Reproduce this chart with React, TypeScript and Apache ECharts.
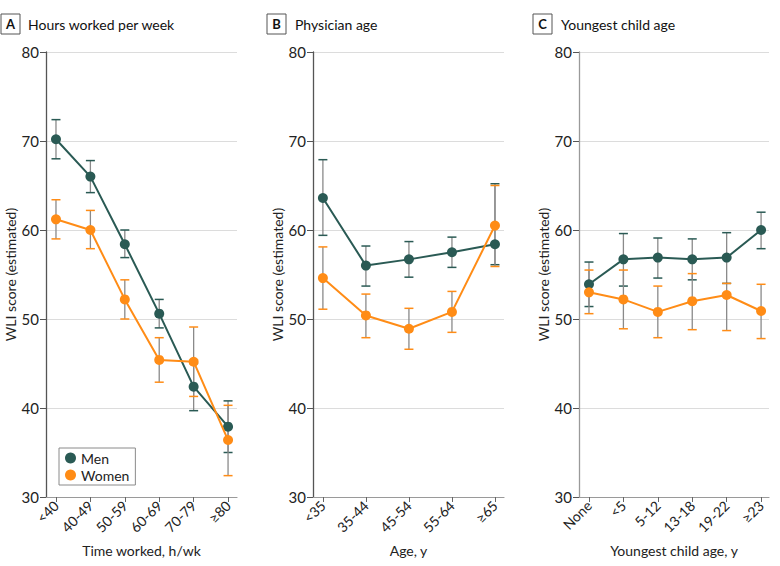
import React, { useEffect, useRef } from "react";
import * as echarts from "echarts";

const hoursCats = ["<40", "40-49", "50-59", "60-69", "70-79", "≥80"];
const hoursMen = [70.2, 66.0, 58.4, 50.6, 42.4, 37.9];
const hoursMenLow = [68.0, 64.2, 56.9, 49.0, 39.7, 35.0];
const hoursMenHigh = [72.4, 67.8, 60.0, 52.2, 45.0, 40.8];
const hoursWomen = [61.2, 60.0, 52.2, 45.4, 45.2, 36.4];
const hoursWomenLow = [59.0, 57.9, 50.0, 42.9, 41.3, 32.4];
const hoursWomenHigh = [63.4, 62.2, 54.4, 47.9, 49.1, 40.3];

const ageCats = ["<35", "35-44", "45-54", "55-64", "≥65"];
const ageMen = [63.6, 56.0, 56.7, 57.5, 58.4];
const ageMenLow = [59.4, 53.7, 54.7, 55.8, 56.1];
const ageMenHigh = [67.9, 58.2, 58.7, 59.2, 65.2];
const ageWomen = [54.6, 50.4, 48.9, 50.8, 60.5];
const ageWomenLow = [51.1, 47.9, 46.6, 48.5, 55.9];
const ageWomenHigh = [58.1, 52.8, 51.2, 53.1, 65.0];

const childCats = ["None", "<5", "5-12", "13-18", "19-22", "≥23"];
const childMen = [53.9, 56.7, 56.9, 56.7, 56.9, 60.0];
const childMenLow = [51.4, 53.7, 54.6, 54.4, 54.0, 57.9];
const childMenHigh = [56.4, 59.6, 59.1, 59.0, 59.7, 62.0];
const childWomen = [53.0, 52.2, 50.8, 52.0, 52.7, 50.9];
const childWomenLow = [50.6, 48.9, 47.9, 48.8, 48.7, 47.8];
const childWomenHigh = [55.5, 55.5, 53.7, 55.1, 54.0, 53.9];

const yTicks = [30, 40, 50, 60, 70, 80];
const panelLetters = ["A", "B", "C"];
const panelTitles = ["Hours worked per week", "Physician age", "Youngest child age"];
const xAxisNames = ["Time worked, h/wk", "Age, y", "Youngest child age, y"];
const yAxisName = "WLI score (estimated)";
const seriesNames = ["Men", "Women"];

const MEN_COLOR = "#2a5a54";
const WOMEN_COLOR = "#ff8c16";
const FONT = "Lato";

const panels = [
  { cats: hoursCats, men: hoursMen, menLow: hoursMenLow, menHigh: hoursMenHigh, women: hoursWomen, womenLow: hoursWomenLow, womenHigh: hoursWomenHigh, left: 46, width: 191, min: -0.29, max: 5.26, yAxisColor: "#555", boxX: 1, titleX: 28 },
  { cats: ageCats, men: ageMen, menLow: ageMenLow, menHigh: ageMenHigh, women: ageWomen, womenLow: ageWomenLow, womenHigh: ageWomenHigh, left: 313, width: 191, min: -0.23, max: 4.21, yAxisColor: "#555", boxX: 267, titleX: 295 },
  { cats: childCats, men: childMen, menLow: childMenLow, menHigh: childMenHigh, women: childWomen, womenLow: childWomenLow, womenHigh: childWomenHigh, left: 579, width: 190, min: -0.29, max: 5.23, yAxisColor: "#9a9a9a", boxX: 533, titleX: 561 },
];

function errorSeries(idx: number, low: number[], high: number[], color: string) {
  return {
    type: "custom",
    name: "err" + idx + color,
    xAxisIndex: idx,
    yAxisIndex: idx,
    z: 1,
    silent: true,
    data: low.map((l, i) => [i, l, high[i]]),
    renderItem: (params: any, api: any) => {
      const x = api.value(0);
      const top = api.coord([x, api.value(2)]);
      const bot = api.coord([x, api.value(1)]);
      const hw = 4.5;
      return {
        type: "group",
        children: [
          { type: "line", shape: { x1: top[0], y1: top[1], x2: bot[0], y2: bot[1] }, style: { stroke: "#8a8a8a", lineWidth: 1.3 } },
          { type: "line", shape: { x1: top[0] - hw, y1: top[1], x2: top[0] + hw, y2: top[1] }, style: { stroke: color, lineWidth: 1.5 } },
          { type: "line", shape: { x1: bot[0] - hw, y1: bot[1], x2: bot[0] + hw, y2: bot[1] }, style: { stroke: color, lineWidth: 1.5 } },
        ],
      };
    },
  };
}

function lineSeries(idx: number, name: string, vals: number[], color: string, z: number) {
  return {
    type: "line",
    name,
    xAxisIndex: idx,
    yAxisIndex: idx,
    z,
    data: vals.map((v, i) => [i, v]),
    symbol: "circle",
    symbolSize: 10,
    itemStyle: { color },
    lineStyle: { color, width: 2 },
  };
}

export default function App() {
  const ref = useRef<HTMLDivElement>(null);
  useEffect(() => {
    if (!ref.current) return;
    const chart = echarts.init(ref.current, undefined, { renderer: "svg" });
    const grids: any[] = [];
    const xAxes: any[] = [];
    const yAxes: any[] = [];
    const series: any[] = [];
    const graphics: any[] = [];
    panels.forEach((p, idx) => {
      grids.push({ left: p.left, top: 52, width: p.width, height: 445 });
      const catIdx = p.cats.map((_, i) => i);
      xAxes.push({
        type: "value",
        gridIndex: idx,
        min: p.min,
        max: p.max,
        name: xAxisNames[idx],
        nameLocation: "middle",
        nameGap: 46,
        nameTextStyle: { fontFamily: FONT, fontSize: 14, color: "#222" },
        axisLine: { show: true, onZero: false, lineStyle: { color: "#9a9a9a", width: 1.2 } },
        axisTick: { show: true, customValues: catIdx, length: 5, lineStyle: { color: "#666" } },
        axisLabel: {
          customValues: catIdx,
          rotate: 45,
          fontFamily: FONT,
          fontSize: 14,
          color: "#222",
          margin: 6,
          formatter: (v: number) => p.cats[Math.round(v)] ?? "",
        },
        splitLine: { show: false },
      });
      yAxes.push({
        type: "value",
        gridIndex: idx,
        min: 30,
        max: 80,
        interval: 10,
        position: "left",
        name: yAxisName,
        nameLocation: "middle",
        nameGap: 22,
        nameTextStyle: { fontFamily: FONT, fontSize: 14, color: "#222" },
        axisLine: { show: true, onZero: false, lineStyle: { color: p.yAxisColor, width: 1.3 } },
        axisTick: { show: true, length: 6, lineStyle: { color: "#555" } },
        axisLabel: { fontFamily: FONT, fontSize: 15, color: "#222", margin: 7, formatter: (v: number) => (yTicks.includes(v) ? String(v) : "") },
        splitLine: { show: true, lineStyle: { color: "#dcdcdc", width: 1 } },
      });
      series.push(errorSeries(idx, p.menLow, p.menHigh, MEN_COLOR));
      series.push(errorSeries(idx, p.womenLow, p.womenHigh, WOMEN_COLOR));
      series.push(lineSeries(idx, seriesNames[0], p.men, MEN_COLOR, 3));
      series.push(lineSeries(idx, seriesNames[1], p.women, WOMEN_COLOR, 4));
      graphics.push({
        type: "rect",
        shape: { x: p.boxX, y: 14, width: 19, height: 20 },
        style: { fill: "#fff", stroke: "#555", lineWidth: 1 },
      });
      graphics.push({
        type: "text",
        x: p.boxX + 9.5,
        y: 24,
        style: { text: panelLetters[idx], fontFamily: FONT, fontWeight: "bold", fontSize: 13, fill: "#111", align: "center", verticalAlign: "middle" },
      });
      graphics.push({
        type: "text",
        x: p.titleX,
        y: 24,
        style: { text: panelTitles[idx], fontFamily: FONT, fontSize: 14, fill: "#111", align: "left", verticalAlign: "middle" },
      });
    });
    chart.setOption({
      animation: false,
      backgroundColor: "#fff",
      grid: grids,
      xAxis: xAxes,
      yAxis: yAxes,
      series,
      graphic: graphics,
      legend: {
        data: seriesNames,
        left: 59,
        top: 448,
        orient: "vertical",
        icon: "circle",
        itemWidth: 11,
        itemHeight: 11,
        itemGap: 3,
        padding: [3, 6, 3, 6],
        borderColor: "#8a8a8a",
        borderWidth: 1,
        backgroundColor: "#fff",
        textStyle: { fontFamily: FONT, fontSize: 14, color: "#222" },
      },
    });
    return () => chart.dispose();
  }, []);
  return <div ref={ref} style={{ position: "fixed", left: 0, top: 0, width: 780, height: 566 }} />;
}
